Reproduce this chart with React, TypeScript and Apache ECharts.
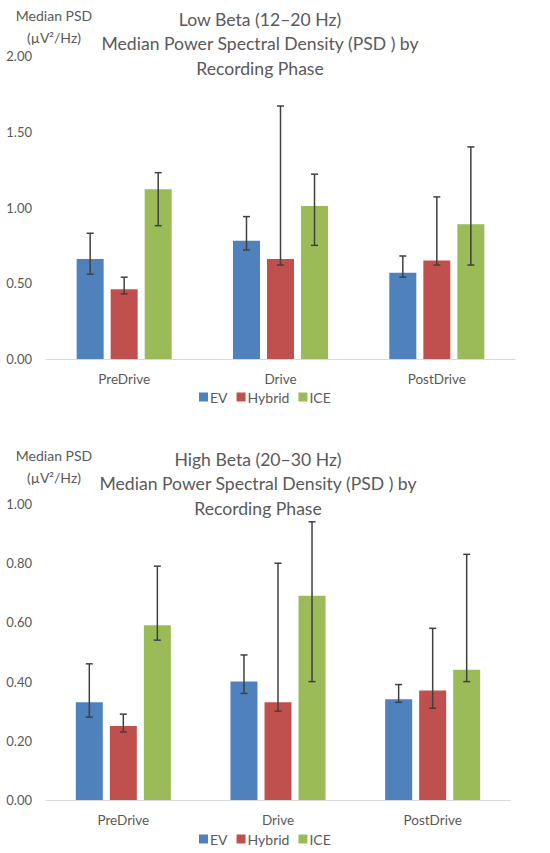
import React, { useEffect, useRef } from "react";
import * as echarts from "echarts";

const categories = ["PreDrive", "Drive", "PostDrive"];
const seriesNames = ["EV", "Hybrid", "ICE"];

// Low Beta (12–20 Hz)
const lowEV = [0.66, 0.78, 0.57];
const lowHybrid = [0.46, 0.66, 0.65];
const lowICE = [1.12, 1.01, 0.89];
const lowEVErrLow = [0.56, 0.72, 0.54];
const lowEVErrHigh = [0.83, 0.94, 0.68];
const lowHybridErrLow = [0.43, 0.62, 0.62];
const lowHybridErrHigh = [0.54, 1.67, 1.07];
const lowICEErrLow = [0.88, 0.75, 0.62];
const lowICEErrHigh = [1.23, 1.22, 1.4];

// High Beta (20–30 Hz)
const highEV = [0.33, 0.4, 0.34];
const highHybrid = [0.25, 0.33, 0.37];
const highICE = [0.59, 0.69, 0.44];
const highEVErrLow = [0.28, 0.36, 0.33];
const highEVErrHigh = [0.46, 0.49, 0.39];
const highHybridErrLow = [0.23, 0.3, 0.31];
const highHybridErrHigh = [0.29, 0.8, 0.58];
const highICEErrLow = [0.54, 0.4, 0.4];
const highICEErrHigh = [0.79, 0.94, 0.83];

const lowTitle = ["Low Beta (12–20 Hz)", "Median Power Spectral Density (PSD ) by", "Recording Phase"];
const highTitle = ["High Beta (20–30 Hz)", "Median Power Spectral Density (PSD ) by", "Recording Phase"];
const yName = ["Median PSD", "(µV²/Hz)"];

const COLORS = ["#4f81bd", "#c0504d", "#9bbb59"];
const FONT = "Lato";
const TEXT = "#595959";
const BAR_W = 27;
const GAP_RATIO = 0.26;

export default function App() {
  const ref = useRef<HTMLDivElement>(null);

  useEffect(() => {
    if (!ref.current) return;
    const chart = echarts.init(ref.current, null, { renderer: "svg" });

    const errSeries = (gridIdx: number, k: number, lo: number[], hi: number[]) => ({
      type: "custom",
      xAxisIndex: gridIdx,
      yAxisIndex: gridIdx,
      silent: true,
      z: 10,
      data: categories.map((_, i) => [i, lo[i], hi[i]]),
      encode: { x: 0, y: [1, 2] },
      renderItem: (params: any, api: any) => {
        const off = (k - 1) * BAR_W * (1 + GAP_RATIO);
        const pLo = api.coord([api.value(0), api.value(1)]);
        const pHi = api.coord([api.value(0), api.value(2)]);
        const x = pLo[0] + off;
        const cap = 3.5;
        const style = { stroke: "#404040", lineWidth: 1.5 };
        return {
          type: "group",
          children: [
            { type: "line", shape: { x1: x, y1: pLo[1], x2: x, y2: pHi[1] }, style },
            { type: "line", shape: { x1: x - cap, y1: pLo[1], x2: x + cap, y2: pLo[1] }, style },
            { type: "line", shape: { x1: x - cap, y1: pHi[1], x2: x + cap, y2: pHi[1] }, style },
          ],
        };
      },
    });

    const barSeries = (gridIdx: number, k: number, data: number[]) => ({
      type: "bar",
      name: seriesNames[k],
      xAxisIndex: gridIdx,
      yAxisIndex: gridIdx,
      barWidth: BAR_W,
      barGap: GAP_RATIO * 100 + "%",
      itemStyle: { color: COLORS[k] },
      data,
    });

    const xAxis = (gridIdx: number) => ({
      type: "category",
      gridIndex: gridIdx,
      data: categories,
      axisLine: { lineStyle: { color: "#d9d9d9", width: 1 } },
      axisTick: { show: false },
      axisLabel: { color: TEXT, fontFamily: FONT, fontSize: 13.5, margin: 13 },
    });

    const yAxis = (gridIdx: number, max: number, interval: number) => ({
      type: "value",
      gridIndex: gridIdx,
      min: 0,
      max,
      interval,
      splitLine: { show: false },
      axisLine: { show: false },
      axisTick: { show: false },
      axisLabel: {
        color: TEXT,
        fontFamily: FONT,
        fontSize: 13,
        margin: 14,
        formatter: (v: number) => v.toFixed(2),
      },
    });

    const titleStyle = { color: TEXT, fontFamily: FONT, fontSize: 17.6, fontWeight: "normal", lineHeight: 24.5 };
    const nameStyle = { color: TEXT, fontFamily: FONT, fontSize: 14, fontWeight: "normal", lineHeight: 22 };

    const legend = (top: number) => ({
      data: seriesNames,
      left: 199,
      top,
      itemWidth: 9,
      itemHeight: 9,
      itemGap: 9,
      icon: "rect",
      padding: 0,
      textStyle: { color: TEXT, fontFamily: FONT, fontSize: 14, padding: [0, 0, 0, -3] },
    });

    chart.setOption({
      animation: false,
      textStyle: { fontFamily: FONT },
      title: [
        { text: lowTitle.join("\n"), left: 260, top: 7, textAlign: "center", textStyle: titleStyle, padding: 0 },
        { text: yName.join("\n"), left: 54, top: 4, textAlign: "center", textStyle: nameStyle, padding: 0 },
        { text: highTitle.join("\n"), left: 258, top: 447, textAlign: "center", textStyle: titleStyle, padding: 0 },
        { text: yName.join("\n"), left: 54, top: 444, textAlign: "center", textStyle: nameStyle, padding: 0 },
      ],
      legend: [legend(390), legend(832)],
      grid: [
        { left: 46, right: 35, top: 56, height: 303 },
        { left: 46, right: 40, top: 504, height: 296 },
      ],
      xAxis: [xAxis(0), xAxis(1)],
      yAxis: [yAxis(0, 2, 0.5), yAxis(1, 1, 0.2)],
      series: [
        barSeries(0, 0, lowEV),
        barSeries(0, 1, lowHybrid),
        barSeries(0, 2, lowICE),
        errSeries(0, 0, lowEVErrLow, lowEVErrHigh),
        errSeries(0, 1, lowHybridErrLow, lowHybridErrHigh),
        errSeries(0, 2, lowICEErrLow, lowICEErrHigh),
        barSeries(1, 0, highEV),
        barSeries(1, 1, highHybrid),
        barSeries(1, 2, highICE),
        errSeries(1, 0, highEVErrLow, highEVErrHigh),
        errSeries(1, 1, highHybridErrLow, highHybridErrHigh),
        errSeries(1, 2, highICEErrLow, highICEErrHigh),
      ],
    });

    return () => chart.dispose();
  }, []);

  return (
    <div
      ref={ref}
      style={{ position: "absolute", left: 0, top: 0, width: 550, height: 853, background: "#ffffff" }}
    />
  );
}
